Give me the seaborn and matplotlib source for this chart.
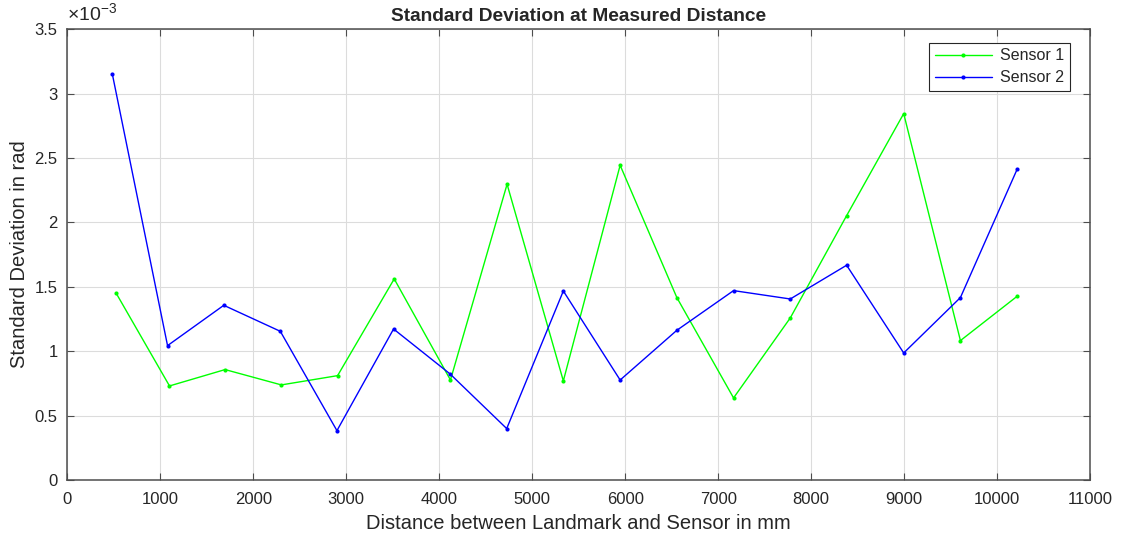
import numpy as np
import pandas as pd
import matplotlib
matplotlib.use('Agg')
import matplotlib.pyplot as plt
from matplotlib.ticker import FuncFormatter, MultipleLocator
import seaborn as sns

# values (std dev in units of 1e-3 rad)
dist_s1 = [526, 1099, 1697, 2302, 2907, 3516, 4121, 4730, 5335, 5946, 6556, 7166, 7776, 8382, 8996, 9606, 10216]
std_s1 = [1.449, 0.730, 0.857, 0.738, 0.810, 1.561, 0.776, 2.296, 0.769, 2.443, 1.416, 0.637, 1.258, 2.052, 2.844, 1.082, 1.426]

dist_s2 = [483, 1078, 1683, 2291, 2900, 3509, 4117, 4726, 5335, 5946, 6556, 7166, 7776, 8382, 8996, 9606, 10216]
std_s2 = [3.155, 1.043, 1.356, 1.154, 0.383, 1.172, 0.823, 0.399, 1.467, 0.776, 1.162, 1.470, 1.405, 1.667, 0.986, 1.416, 2.412]

df1 = pd.DataFrame({'dist': dist_s1, 'std': std_s1})
df2 = pd.DataFrame({'dist': dist_s2, 'std': std_s2})

sns.set_style('whitegrid')
plt.rcParams['font.family'] = ['Liberation Sans', 'DejaVu Sans']
plt.rcParams['mathtext.fontset'] = 'custom'
plt.rcParams['mathtext.rm'] = 'Liberation Sans'
plt.rcParams['mathtext.it'] = 'Liberation Sans'

fig = plt.figure(figsize=(11.22, 5.39), dpi=100)
ax = fig.add_axes([0.060, 0.1095, 0.9115, 0.8365])

sns.lineplot(data=df1, x='dist', y='std', color='#00ff00', lw=1, marker='o', markersize=3,
             markeredgewidth=0, label='Sensor 1', ax=ax, sort=False)
sns.lineplot(data=df2, x='dist', y='std', color='#0000ff', lw=1, marker='o', markersize=3,
             markeredgewidth=0, label='Sensor 2', ax=ax, sort=False)

ax.set_xlim(0, 11000)
ax.set_ylim(0, 3.5)
ax.xaxis.set_major_locator(MultipleLocator(1000))
ax.yaxis.set_major_locator(MultipleLocator(0.5))
ax.yaxis.set_major_formatter(FuncFormatter(lambda v, p: '%g' % v))
ax.xaxis.set_major_formatter(FuncFormatter(lambda v, p: '%g' % v))

ax.grid(True, color='#dcdcdc', lw=0.8)
for s in ax.spines.values():
    s.set_visible(True)
    s.set_color('#4d4d4d')
    s.set_linewidth(1.1)
ax.tick_params(direction='in', length=5, width=0.8, color='#4d4d4d',
               top=True, right=True, bottom=True, left=True,
               labelsize=12, labelcolor='#262626')
ax.tick_params(axis='x', pad=9)
ax.tick_params(axis='y', pad=7)

ax.set_xlabel('Distance between Landmark and Sensor in mm', fontsize=14.5, color='#262626', labelpad=5)
ax.set_ylabel('Standard Deviation in rad', fontsize=14.5, color='#262626', labelpad=4)
ax.set_title('Standard Deviation at Measured Distance', fontsize=13.8, fontweight='bold', pad=6)
ax.text(0.0, 1.012, r'$\times10^{-3}$', transform=ax.transAxes, fontsize=14,
        color='#262626', ha='left', va='bottom')

leg = ax.legend(loc='upper right', bbox_to_anchor=(0.988, 0.988), fontsize=11.5,
                frameon=True, fancybox=False, edgecolor='#262626', framealpha=1,
                handlelength=3.6, borderpad=0.35, labelspacing=0.45, handletextpad=0.5)
leg.get_frame().set_linewidth(0.8)

fig.savefig('out.png', dpi=100)
